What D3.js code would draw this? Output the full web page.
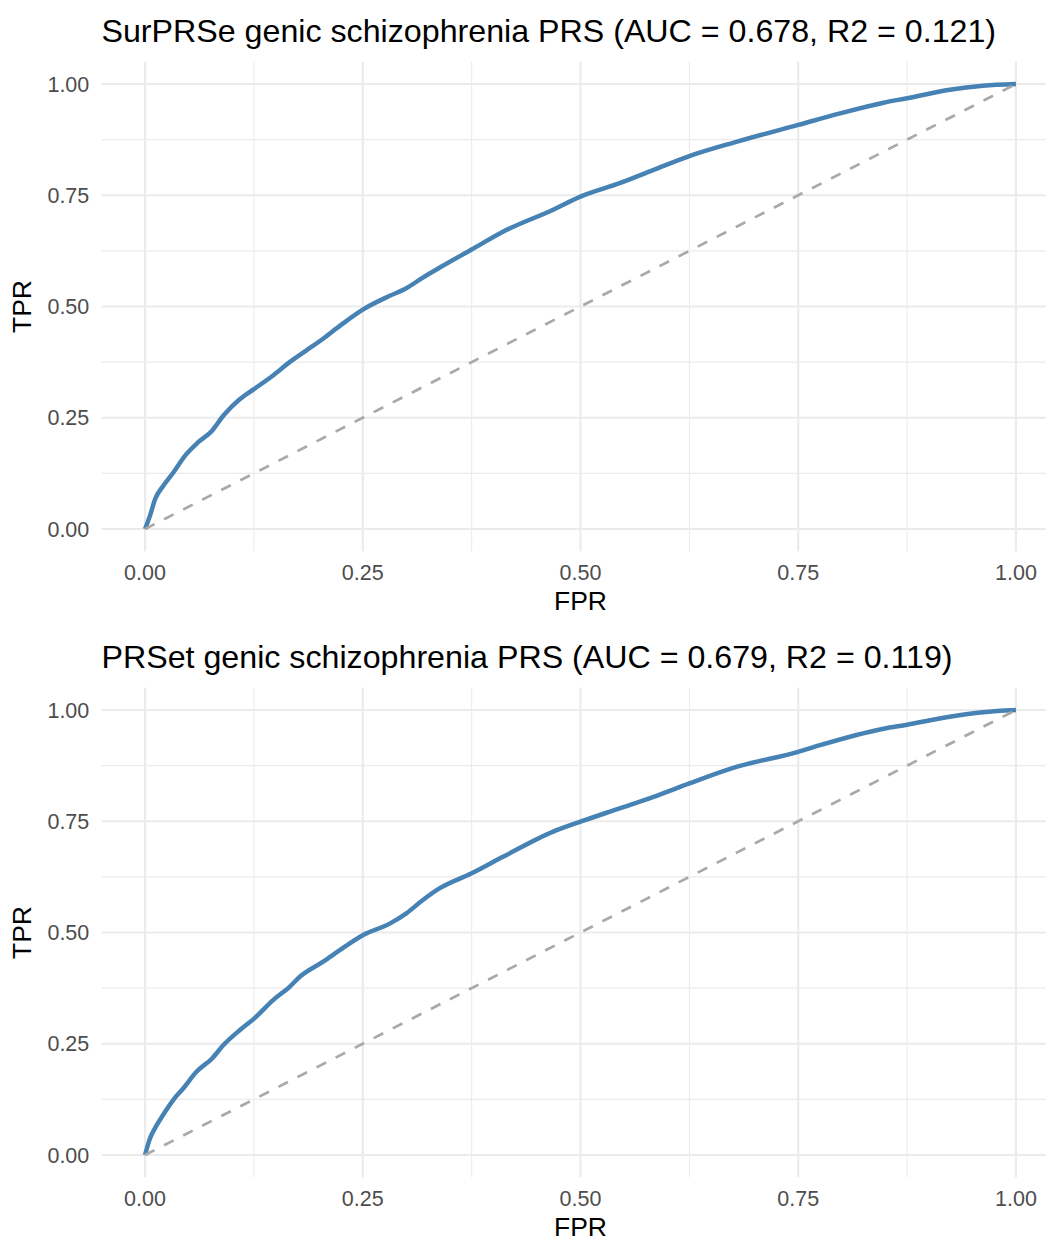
<!DOCTYPE html>
<html>
<head>
<meta charset="utf-8">
<script src="https://cdn.jsdelivr.net/npm/d3@7"></script>
<style>
  body { margin: 0; background: #fff; }
  text { font-family: "Liberation Sans", Arial, sans-serif; }
</style>
</head>
<body>
<div class="container"></div>
<script>
// values
const fpr1 = [0, 0.0057, 0.0115, 0.021, 0.0325, 0.046, 0.061, 0.077, 0.09, 0.109, 0.1255, 0.147, 0.166, 0.185, 0.204, 0.224, 0.25, 0.281, 0.30, 0.319, 0.338, 0.375, 0.411, 0.468, 0.5, 0.545, 0.584, 0.625, 0.679, 0.75, 0.798, 0.848, 0.875, 0.924, 0.962, 1];
const tpr1 = [0, 0.030, 0.067, 0.097, 0.127, 0.165, 0.195, 0.221, 0.255, 0.292, 0.315, 0.345, 0.375, 0.401, 0.427, 0.457, 0.493, 0.524, 0.541, 0.565, 0.587, 0.628, 0.668, 0.717, 0.747, 0.777, 0.807, 0.838, 0.870, 0.908, 0.934, 0.958, 0.968, 0.987, 0.996, 1];

const fpr2 = [0, 0.0057, 0.0134, 0.023, 0.0325, 0.044, 0.059, 0.077, 0.09, 0.109, 0.1255, 0.147, 0.166, 0.178, 0.205, 0.224, 0.25, 0.281, 0.30, 0.319, 0.338, 0.375, 0.411, 0.468, 0.5, 0.545, 0.584, 0.625, 0.679, 0.75, 0.775, 0.848, 0.875, 0.924, 0.962, 1];
const tpr2 = [0, 0.0375, 0.067, 0.097, 0.124, 0.150, 0.187, 0.217, 0.247, 0.281, 0.307, 0.348, 0.378, 0.401, 0.435, 0.461, 0.494, 0.520, 0.543, 0.573, 0.599, 0.633, 0.670, 0.726, 0.749, 0.779, 0.805, 0.835, 0.872, 0.906, 0.921, 0.958, 0.967, 0.985, 0.995, 1];

const titles = [
  "SurPRSe genic schizophrenia PRS (AUC = 0.678, R2 = 0.121)",
  "PRSet genic schizophrenia PRS (AUC = 0.679, R2 = 0.119)"
];
const majorTicks = [0, 0.25, 0.5, 0.75, 1];
const minorTicks = [0.125, 0.375, 0.625, 0.875];

const panels = [
  { title: titles[0], fpr: fpr1, tpr: tpr1 },
  { title: titles[1], fpr: fpr2, tpr: tpr2 }
];

const width = 1046;
const height = 1239;

const svg = d3.select(".container").append("svg")
  .attr("width", width)
  .attr("height", height);

const x = d3.scaleLinear()
  .domain([-0.05, 1.05])
  .range([101.5, 1059.5]);

const fmt = d3.format(".2f");

panels.forEach((p, i) => {
  const top = 61.75 + i * 626;
  const bottom = top + 489.5;
  const y = d3.scaleLinear()
    .domain([-0.05, 1.05])
    .range([bottom, top]);

  const g = svg.append("g");

  // minor grid
  g.selectAll(".minorx").data(minorTicks).enter().append("line")
    .attr("x1", d => x(d)).attr("x2", d => x(d))
    .attr("y1", top).attr("y2", bottom)
    .attr("stroke", "#ebebeb").attr("stroke-width", 1.07);
  g.selectAll(".minory").data(minorTicks).enter().append("line")
    .attr("x1", x.range()[0]).attr("x2", x.range()[1])
    .attr("y1", d => y(d)).attr("y2", d => y(d))
    .attr("stroke", "#ebebeb").attr("stroke-width", 1.07);

  // major grid
  g.selectAll(".majorx").data(majorTicks).enter().append("line")
    .attr("x1", d => x(d)).attr("x2", d => x(d))
    .attr("y1", top).attr("y2", bottom)
    .attr("stroke", "#ebebeb").attr("stroke-width", 2.13);
  g.selectAll(".majory").data(majorTicks).enter().append("line")
    .attr("x1", x.range()[0]).attr("x2", x.range()[1])
    .attr("y1", d => y(d)).attr("y2", d => y(d))
    .attr("stroke", "#ebebeb").attr("stroke-width", 2.13);

  // tick labels
  g.selectAll(".xt").data(majorTicks).enter().append("text")
    .attr("x", d => x(d))
    .attr("y", bottom + 28.25)
    .attr("text-anchor", "middle")
    .attr("font-size", 21.5)
    .attr("fill", "#4d4d4d")
    .text(fmt);
  g.selectAll(".yt").data(majorTicks).enter().append("text")
    .attr("x", 89.3)
    .attr("y", d => y(d) + 7.7)
    .attr("text-anchor", "end")
    .attr("font-size", 21.5)
    .attr("fill", "#4d4d4d")
    .text(fmt);

  // axis titles
  g.append("text")
    .attr("x", (x.range()[0] + x.range()[1]) / 2)
    .attr("y", bottom + 58.5)
    .attr("text-anchor", "middle")
    .attr("font-size", 26.5)
    .attr("fill", "#000")
    .text("FPR");
  g.append("text")
    .attr("transform", `translate(31,${(top + bottom) / 2}) rotate(-90)`)
    .attr("text-anchor", "middle")
    .attr("font-size", 26.5)
    .attr("fill", "#000")
    .text("TPR");

  // plot title
  g.append("text")
    .attr("x", 101.5)
    .attr("y", top - 19.75)
    .attr("font-size", 32.2)
    .attr("fill", "#000")
    .text(p.title);

  const pts = p.fpr.map((f, j) => [f, p.tpr[j]]);
  const line = d3.line()
    .x(d => x(d[0]))
    .y(d => y(d[1]));

  g.append("path")
    .datum(pts)
    .attr("fill", "none")
    .attr("stroke", "steelblue")
    .attr("stroke-width", 4.5)
    .attr("stroke-linejoin", "round")
    .attr("d", line.curve(d3.curveMonotoneX));

  g.append("path")
    .datum([[0, 0], [1, 1]])
    .attr("fill", "none")
    .attr("stroke", "darkgray")
    .attr("stroke-width", 2.7)
    .attr("stroke-dasharray", "10.7,10.7")
    .attr("d", line.curve(d3.curveLinear));
});
</script>
</body>
</html>
